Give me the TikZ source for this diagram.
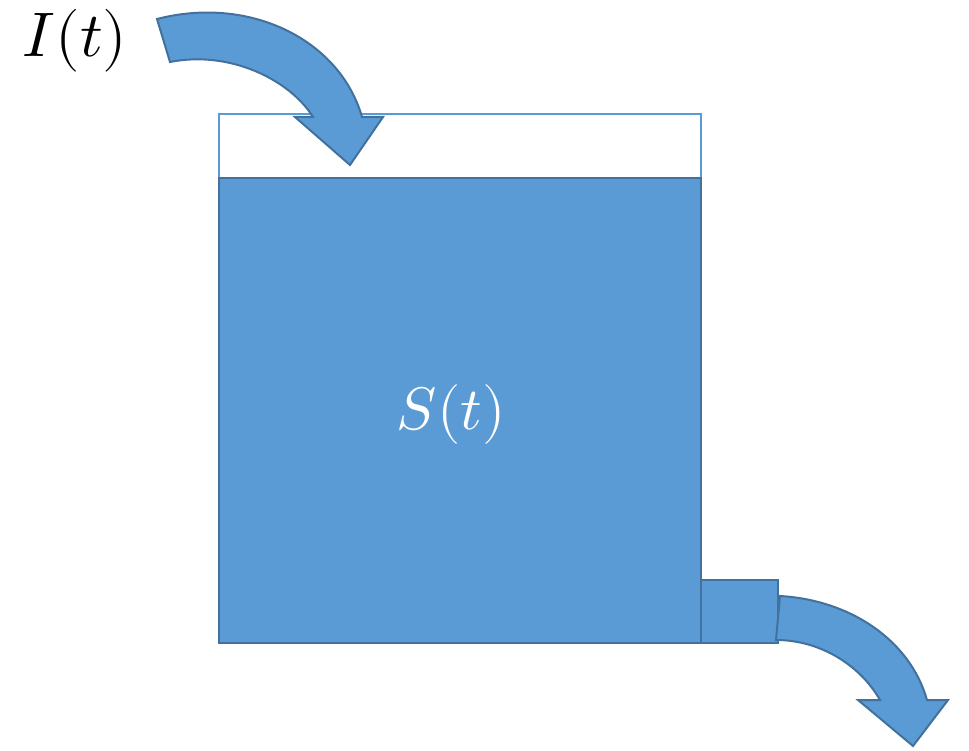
\documentclass[tikz,border=0pt]{standalone}
\usepackage{tikz}
\usepackage{unicode-math}
\definecolor{tankfill}{HTML}{5B9BD5}
\definecolor{tankline}{HTML}{41719C}
\tikzset{
  water/.style={fill=tankfill, draw=tankline, line width=2pt, line join=miter},
  emptypart/.style={fill=white, draw=tankfill, line width=2pt},
  flow/.style={fill=tankfill, draw=tankline, line width=2pt, line join=miter},
  label/.style={inner sep=0pt, font=\fontsize{63}{70}\selectfont},
}
\begin{document}
\begin{tikzpicture}[x=1pt,y=-1pt]
\useasboundingbox (0,0) rectangle (969,751);
% tank
\draw[emptypart] (219,114) rectangle (701,178);
\draw[water] (219,178) rectangle (701,643);
\coordinate (tankc) at (451,414);
\node[label, text=white, font=\fontsize{60}{68}\selectfont] (S) at (tankc) {$S(t)$};
% outlet pipe
\draw[water] (701,580) rectangle (778,643);
% inflow arrow
\draw[flow] (157,19) .. controls (250,-5) and (340,40) .. (362,117)
  -- (383,117) -- (350,165) -- (295,117) -- (313,117)
  .. controls (290,80) and (230,50) .. (170,62) -- cycle;
\node[label] (I) at (75,41) {$I(t)$};
% outflow arrow
\draw[flow] (780,596) .. controls (850,600) and (910,640) .. (927,700)
  -- (948,700) -- (913,746) -- (858,700) -- (880,700)
  .. controls (860,665) and (820,640) .. (776,640) -- cycle;
\end{tikzpicture}
\end{document}
